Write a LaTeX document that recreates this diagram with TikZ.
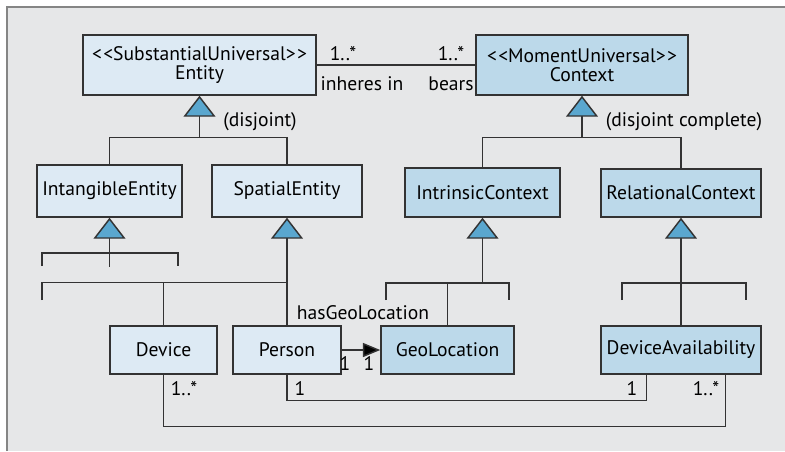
\documentclass[tikz,border=0pt]{standalone}
\usepackage{fontspec}
\setmainfont[Ligatures=TeXOff]{PT Sans}
\usepackage{tikz}
\usetikzlibrary{arrows.meta}
\definecolor{bggray}{HTML}{E6E7E8}
\definecolor{framegray}{HTML}{858585}
\definecolor{lightcls}{HTML}{DDEAF4}
\definecolor{darkcls}{HTML}{BCD9EA}
\definecolor{triblue}{HTML}{5AA7CF}
\definecolor{linegray}{HTML}{333333}

\begin{document}
\begin{tikzpicture}[x=0.75pt, y=-0.75pt]
				    \tikzstyle{line}=[draw,line width = 1.1pt,-,linegray]
				    \tikzstyle{gen}=[line,-{Triangle[width=24pt,length=15.75pt,fill=triblue]}]
				    \tikzstyle{nav}=[line,-{Triangle[width=10.5pt,length=13pt,fill=black]}]
				    \tikzstyle{cls}=[draw=linegray,line width = 1.1pt,inner sep=0pt,align=center,font=\fontsize{14.7}{14}\selectfont]
				    \tikzstyle{substantial}=[cls,fill=lightcls]
				    \tikzstyle{moment}=[cls,fill=darkcls]
				    \tikzstyle{lbl}=[inner sep=0pt,font=\fontsize{14.7}{14}\selectfont]
				    \useasboundingbox (0,0) rectangle (785,451);
				    \fill[bggray] (7,7) rectangle (785,451);
				    \draw[framegray,line width = 1.5pt] (7,451) -- (7,7) -- (785,7);
				    % top level
				    \node[substantial,minimum width=174.75pt,minimum height=45pt] (ent) at (199.5,65) {<\kern1pt<SubstantialUniversal>\kern1pt>\\Entity};
				    \node[moment,minimum width=159pt,minimum height=45pt] (ctx) at (582,65) {<\kern1pt<MomentUniversal>\kern1pt>\\Context};
				    \draw[line] (ent.east) -- (ctx.west);
				    \node[lbl] (m1) at (343,54) {1..*};
				    \node[lbl] (r1) at (362,84) {inheres in};
				    \node[lbl] (m2) at (451,54) {1..*};
				    \node[lbl] (r2) at (451,84) {bears};
				    % second level
				    \node[substantial,minimum width=108.75pt,minimum height=39pt] (intang) at (109.5,191) {IntangibleEntity};
				    \node[substantial,minimum width=112.5pt,minimum height=39pt] (spat) at (287,191) {SpatialEntity};
				    \node[moment,minimum width=116.25pt,minimum height=36.75pt] (intr) at (482.5,192.5) {IntrinsicContext};
				    \node[moment,minimum width=120pt,minimum height=36pt] (rel) at (681,193) {RelationalContext};
				    \path (ent.south) ++(0,42) coordinate (entJ);
				    \path (ctx.south) ++(0,42) coordinate (ctxJ);
				    \draw[gen] (entJ) -- (ent.south);
				    \draw[gen] (ctxJ) -- (ctx.south);
				    \draw[line] (intang.north) |- (entJ) -| (spat.north);
				    \draw[line] (intr.north) |- (ctxJ) -| (rel.north);
				    \node[lbl] (gs1) at (260,122) {(disjoint)};
				    \node[lbl] (gs2) at (684,122) {(disjoint complete)};
				    % bottom level
				    \node[substantial,minimum width=80.25pt,minimum height=36pt] (device) at (163.5,350) {Device};
				    \node[substantial,minimum width=81pt,minimum height=36pt] (person) at (287,350) {Person};
				    \node[moment,minimum width=99.75pt,minimum height=36pt] (geo) at (447.5,350) {GeoLocation};
				    \node[moment,minimum width=120pt,minimum height=36pt] (da) at (681,350) {DeviceAvailability};
				    % open generalization sets
				    \path (intang.south) ++(0,49) coordinate (intJ);
				    \coordinate (iL) at (42,266);
				    \coordinate (iR) at (178,266);
				    \draw[gen] (intJ) -- (intang.south);
				    \draw[line] (iL) -- ++(0,-13) -| (iR);
				    \path (person.north) ++(0,-43) coordinate (spJ);
				    \coordinate (sL) at (42,300);
				    \draw[gen] (person.north) -- (spat.south);
				    \draw[line] (sL) |- (spJ);
				    \draw[line] (device.north) -- (device.north |- spJ);
				    \path (intr.south) ++(0,66) coordinate (inJ);
				    \coordinate (gL) at (386,300);
				    \coordinate (gR) at (509,300);
				    \draw[gen] (inJ) -- (intr.south);
				    \draw[line] (gL) -- ++(0,-17) -| (gR);
				    \draw[line] (geo.north) -- (geo.north |- inJ);
				    \coordinate (rL) at (622,300);
				    \coordinate (rR) at (746,300);
				    \draw[gen] (da.north) -- (rel.south);
				    \draw[line] (rL) -- ++(0,-17) -| (rR);
				    % associations
				    \draw[nav] (person.east) -- (geo.west);
				    \node[lbl] (hg) at (363,313) {hasGeoLocation};
				    \node[lbl] (m3) at (345,364) {1};
				    \node[lbl] (m4) at (369,364) {1};
				    \draw[line] (person.south) -- ++(0,26) -| ([xshift=34.5pt]da.south west);
				    \draw[line] (device.south) -- ++(0,52) -| ([xshift=93.75pt]da.south west);
				    \node[lbl] (m5) at (184,389) {1..*};
				    \node[lbl] (m6) at (300,389) {1};
				    \node[lbl] (m7) at (632,389) {1};
				    \node[lbl] (m8) at (706,389) {1..*};
				\end{tikzpicture}
\end{document}
